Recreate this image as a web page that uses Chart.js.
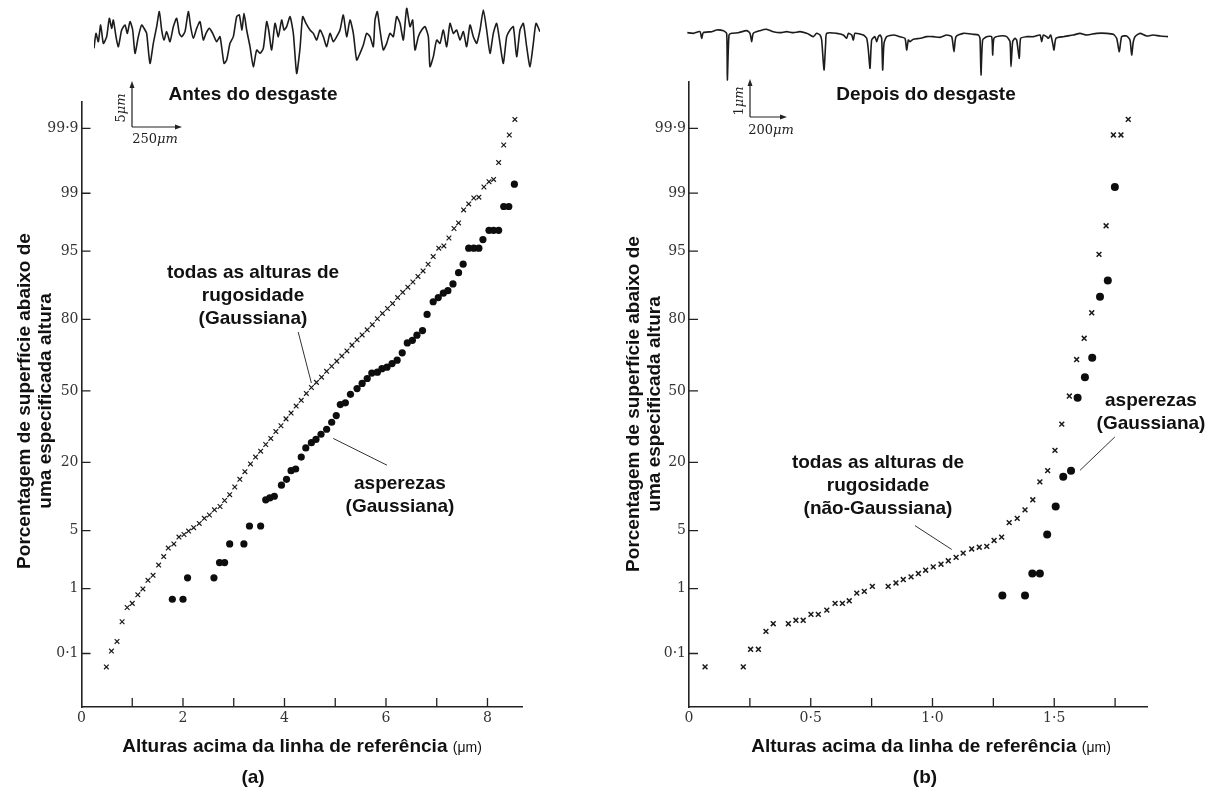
<!DOCTYPE html>
<html>
<head>
<meta charset="utf-8">
<script src="https://cdn.jsdelivr.net/npm/chart.js@4.4.1/dist/chart.umd.min.js"></script>
<style>
  html, body { margin: 0; padding: 0; background: #fff; }
  body { width: 1216px; height: 791px; position: relative; overflow: hidden; }
  canvas { position: absolute; }
  .t { position: absolute; transform: translate(-50%, -50%); white-space: nowrap;
       font: bold 19px "Liberation Sans", Arial, sans-serif; color: #111; line-height: 1; text-align: center; }
  .ml { line-height: 23px; }
  .unit { font-weight: normal; font-size: 14px; }
  .sb { position: absolute; transform: translate(-50%, -50%); white-space: nowrap;
        font: 13px "DejaVu Serif", "Liberation Serif", serif; color: #222; line-height: 1; }
  .sb i { font-style: italic; }
  .t.rot, .sb.rot { transform: translate(-50%, -50%) rotate(-90deg); }
</style>
</head>
<body>
<canvas id="traceA" width="446" height="80" style="left:94px;top:0"></canvas>
<canvas id="traceB" width="481" height="84" style="left:687px;top:0"></canvas>
<canvas id="plotA" width="600" height="791" style="left:0;top:0"></canvas>
<canvas id="plotB" width="616" height="791" style="left:600px;top:0"></canvas>

<svg width="1216" height="791" style="position:absolute;left:0;top:0;pointer-events:none">
  <g stroke="#222" stroke-width="1.2" fill="none">
    <path d="M132 127 V86 M132 127 H178"/>
    <path d="M750 117 V83 M750 117 H783"/>
  </g>
  <g fill="#222">
    <path d="M132 81 L129.5 88 L134.5 88 Z"/>
    <path d="M182 127 L175 124.5 L175 129.5 Z"/>
    <path d="M750 79 L747.5 86 L752.5 86 Z"/>
    <path d="M787 117 L780 114.5 L780 119.5 Z"/>
  </g>
</svg>
<div class="sb rot" style="left:120px;top:108px">5<i>μm</i></div>
<div class="sb" style="left:155px;top:138px">250<i>μm</i></div>
<div class="sb rot" style="left:738px;top:101px">1<i>μm</i></div>
<div class="sb" style="left:771px;top:129px">200<i>μm</i></div>

<div class="t" style="left:253px;top:93px">Antes do desgaste</div>
<div class="t" style="left:926px;top:93px">Depois do desgaste</div>

<div class="t rot" style="left:23px;top:401px">Porcentagem de superfície abaixo de</div>
<div class="t rot" style="left:44px;top:401px">uma especificada altura</div>
<div class="t rot" style="left:632px;top:404px">Porcentagem de superfície abaixo de</div>
<div class="t rot" style="left:653px;top:404px">uma especificada altura</div>

<div class="t ml" style="left:253px;top:294px">todas as alturas de<br>rugosidade<br>(Gaussiana)</div>
<div class="t ml" style="left:400px;top:494px">asperezas<br>(Gaussiana)</div>
<div class="t ml" style="left:878px;top:484px">todas as alturas de<br>rugosidade<br>(não-Gaussiana)</div>
<div class="t ml" style="left:1151px;top:411px">asperezas<br>(Gaussiana)</div>

<div class="t" style="left:302px;top:745px">Alturas acima da linha de referência <span class="unit">(μm)</span></div>
<div class="t" style="left:931px;top:745px">Alturas acima da linha de referência <span class="unit">(μm)</span></div>
<div class="t" style="left:253px;top:776px">(a)</div>
<div class="t" style="left:925px;top:776px">(b)</div>

<script>
// ---------- (a) before wear: heights (µm) and cumulative percentage ----------
const heightsA = [0.49,0.59,0.70,0.80,0.90,1.00,1.11,1.21,1.31,1.41,1.52,1.62,1.71,1.82,1.92,2.02,2.11,2.21,2.32,2.42,
  2.52,2.62,2.73,2.82,2.92,3.02,3.12,3.22,3.33,3.43,3.53,3.63,3.73,3.83,3.93,4.03,4.13,4.23,4.33,4.43,
  4.53,4.63,4.73,4.83,4.93,5.03,5.13,5.23,5.33,5.43,5.53,5.63,5.73,5.83,5.93,6.03,6.13,6.23,6.33,6.43,
  6.53,6.63,6.73,6.83,6.93,7.04,7.14,7.24,7.34,7.43,7.53,7.63,7.73,7.83,7.93,8.03,8.12,8.22,8.32,8.43,8.54];
const pctA = [0.058,0.11,0.16,0.33,0.54,0.62,0.82,0.99,1.29,1.50,2.02,2.56,3.22,3.59,4.27,4.55,4.95,5.37,5.94,6.68,
  7.21,8.08,8.69,9.85,11.1,12.9,14.9,17.1,19.5,21.8,23.9,26.4,28.8,31.6,34.1,37.1,39.7,42.9,45.6,48.8,
  51.6,54.0,56.4,59.1,61.4,63.7,65.9,68.1,70.5,72.6,74.5,76.4,78.2,80.2,81.9,83.4,84.8,86.4,87.7,88.9,
  90.0,91.1,92.1,93.2,94.3,95.35,95.6,96.4,97.2,97.6,98.34,98.61,98.84,98.87,99.18,99.31,99.36,99.64,99.81,99.87,99.93];
const asperityHeightsA = [1.79,2.00,2.09,2.61,2.72,2.82,2.92,3.20,3.31,3.53,3.63,3.71,3.80,3.94,4.04,4.13,4.22,4.33,4.42,4.53,
  4.62,4.72,4.83,4.93,5.02,5.10,5.20,5.30,5.43,5.53,5.63,5.72,5.83,5.92,6.02,6.12,6.22,6.32,6.42,6.52,
  6.61,6.72,6.81,6.93,7.03,7.13,7.22,7.32,7.43,7.52,7.63,7.73,7.83,7.91,8.03,8.12,8.22,8.32,8.42,8.53];
const asperityPctA = [0.71,0.71,1.39,1.39,2.17,2.17,3.59,3.59,5.59,5.59,10.0,10.4,10.75,13.35,14.9,17.4,17.9,21.8,25.1,27.1,
  28.4,30.5,32.6,35.6,38.6,43.6,44.4,48.4,51.1,53.5,55.8,58.3,58.7,60.3,61.0,62.6,64.1,67.3,71.4,72.4,
  74.4,76.1,81.6,85.3,86.4,87.5,88.1,89.6,91.8,93.2,95.35,95.35,95.35,96.25,97.06,97.06,97.06,98.5,98.5,99.25];

// ---------- (b) after wear ----------
const heightsB = [0.066,0.223,0.253,0.285,0.316,0.346,0.408,0.439,0.469,0.501,0.531,0.566,0.600,0.630,0.658,0.689,0.720,0.753,0.818,0.850,
  0.880,0.912,0.942,0.972,1.003,1.035,1.065,1.097,1.126,1.161,1.192,1.223,1.253,1.284,1.315,1.348,1.380,1.412,1.441,1.473,
  1.503,1.531,1.562,1.592,1.623,1.654,1.684,1.713,1.743,1.774,1.804];
const pctB = [0.058,0.058,0.118,0.118,0.233,0.307,0.307,0.347,0.347,0.427,0.427,0.494,0.621,0.621,0.676,0.866,0.914,1.07,1.07,1.19,
  1.32,1.43,1.58,1.74,1.92,2.07,2.28,2.50,2.81,3.14,3.29,3.36,3.92,4.27,6.06,6.68,8.08,10.0,14.2,17.4,
  24.2,34.8,47.6,64.4,73.2,82.1,94.6,97.4,99.87,99.87,99.93];
const asperityHeightsB = [1.287,1.380,1.410,1.441,1.471,1.506,1.537,1.569,1.596,1.626,1.656,1.688,1.720,1.749];
const asperityPctB = [0.80,0.80,1.58,1.58,4.55,8.69,15.6,17.4,46.8,56.4,65.2,86.6,90.3,99.18];

// probability axis ticks
const probTicks = [0.1, 1, 5, 20, 50, 80, 95, 99, 99.9];
const probTickLabels = ['0·1', '1', '5', '20', '50', '80', '95', '99', '99·9'];

// leader lines: [[height, pct], [height, pct]]
const leadersA = [[[4.27, 75.6], [4.53, 53.7]], [[6.02, 19.1], [4.96, 28.8]]];
const leadersB = [[[0.928, 5.64], [1.079, 3.10]], [[1.749, 29.4], [1.606, 17.5]]];

// ---------- surface profile traces (position, depth below top) ----------
const traceBeforeX = [42,48,55,62,70,80,88,95,100,108,115,125,135,142,150,158,165,175,185,195,
  200,210,220,230,238,245,252,260,270,280,290,298,305,315,325,332,340,350,360,370,
  378,388,398,410,420,432,440,450,460,470,478,486,492,500,510,520,530,540,550,560,
  566,575,585,595,605,612,620,630,640,650,660,668,678,690,700,710,720,730,740,750,
  760,770,780,790,800,810,820,830,840,850,860,870,880,885,892,900,910,920,930,940,
  950,960,970,980,990,998,1005,1015,1025,1035,1045,1050,1060,1070,1080,1090,1100,1110,1120,1130,
  1140,1150,1160,1170,1180,1190,1200,1210,1220,1230,1240,1250,1260,1270,1280,1290,1300,1310,1320,1330,
  1340,1350,1360,1368,1380];
const traceBeforeDepth = [145,100,125,75,130,110,55,85,60,110,140,90,75,100,65,90,160,110,75,90,
  100,190,130,80,35,90,120,95,125,80,55,100,110,95,35,80,115,85,65,120,
  100,85,100,125,110,190,180,130,110,50,45,90,40,90,140,200,150,160,145,65,
  90,150,70,110,60,90,80,50,100,220,145,50,70,90,100,120,90,110,140,100,
  125,110,90,45,110,60,100,180,160,135,100,110,140,60,35,90,150,130,100,110,
  50,70,120,25,80,60,150,110,90,80,110,200,170,120,130,90,140,70,100,90,
  120,95,140,75,110,130,90,30,90,160,100,70,130,190,110,90,80,170,90,70,
  140,200,130,70,95];
const traceAfterX = [22,40,60,65,70,95,110,130,140,142,147,155,175,200,210,215,220,240,260,280,
  300,320,340,360,380,390,400,410,420,425,432,437,440,470,490,500,505,515,520,525,
  550,560,565,570,575,585,590,595,600,605,608,612,620,640,660,675,680,685,690,700,
  720,740,760,780,800,815,822,828,850,880,895,900,903,908,920,935,938,942,960,980,
  990,993,998,1005,1010,1018,1022,1040,1060,1080,1085,1090,1100,1105,1112,1118,1122,1128,1150,1180,
  1200,1220,1250,1280,1300,1310,1318,1325,1340,1350,1355,1360,1365,1380,1400,1420,1440,1465];
const traceAfterDepth = [98,100,95,115,98,95,90,92,100,240,105,100,98,92,100,125,100,92,88,95,
  98,95,98,95,100,105,110,100,105,120,210,130,100,100,105,115,100,105,120,100,
  105,115,150,205,120,110,125,110,105,115,210,130,110,105,110,115,150,120,125,118,
  115,110,110,112,105,110,155,110,100,103,105,115,225,120,110,110,165,115,108,110,
  125,200,125,115,120,175,115,110,110,105,125,105,110,115,105,130,150,115,110,105,
  100,105,100,100,103,115,155,110,108,120,165,125,110,100,108,105,108,110];

// ---------- inverse normal CDF used by the probability scale ----------
function probit(p) {
  const a = [-3.969683028665376e+01, 2.209460984245205e+02, -2.759285104469687e+02, 1.383577518672690e+02, -3.066479806614716e+01, 2.506628277459239e+00];
  const b = [-5.447609879822406e+01, 1.615858368580409e+02, -1.556989798598866e+02, 6.680131188771972e+01, -1.328068155288572e+01];
  const c = [-7.784894002430293e-03, -3.223964580411365e-01, -2.400758277161838e+00, -2.549732539343734e+00, 4.374664141464968e+00, 2.938163982698783e+00];
  const d = [7.784695709041462e-03, 3.224671290700398e-01, 2.445134137142996e+00, 3.754408661907416e+00];
  const pl = 0.02425;
  let q, r;
  if (p < pl) {
    q = Math.sqrt(-2 * Math.log(p));
    return (((((c[0]*q+c[1])*q+c[2])*q+c[3])*q+c[4])*q+c[5]) / ((((d[0]*q+d[1])*q+d[2])*q+d[3])*q+1);
  }
  if (p <= 1 - pl) {
    q = p - 0.5; r = q * q;
    return (((((a[0]*r+a[1])*r+a[2])*r+a[3])*r+a[4])*r+a[5])*q / (((((b[0]*r+b[1])*r+b[2])*r+b[3])*r+b[4])*r+1);
  }
  q = Math.sqrt(-2 * Math.log(1 - p));
  return -(((((c[0]*q+c[1])*q+c[2])*q+c[3])*q+c[4])*q+c[5]) / ((((d[0]*q+d[1])*q+d[2])*q+d[3])*q+1);
}
function normCdf(z) {
  const t = 1 / (1 + 0.2316419 * Math.abs(z));
  const y = 0.3989423 * Math.exp(-z * z / 2) * t * (0.3193815 + t * (-0.3565638 + t * (1.781478 + t * (-1.821256 + t * 1.330274))));
  return z > 0 ? 1 - y : y;
}

// Normal-probability axis: values are percentages, laid out linearly in z
class ProbitScale extends Chart.LinearScale {
  determineDataLimits() {
    this.min = this.options.zMin;
    this.max = this.options.zMax;
  }
  buildTicks() {
    return this.options.probTicks.map(v => ({ value: v }));
  }
  getPixelForValue(value) {
    if (value === null || value === undefined || isNaN(value)) return NaN;
    return super.getPixelForValue(probit(value / 100));
  }
  getValueForPixel(pixel) {
    return 100 * normCdf(super.getValueForPixel(pixel));
  }
}
ProbitScale.id = 'probit';
ProbitScale.defaults = {};
Chart.register(ProbitScale);

// inward tick marks and annotation leaders
const plotDecor = {
  id: 'plotDecor',
  afterDraw(chart, args, opts) {
    const { ctx, chartArea: a, scales: { x, y } } = chart;
    ctx.save();
    ctx.strokeStyle = '#222';
    ctx.lineWidth = 1.3;
    ctx.beginPath();
    x.ticks.forEach(t => {
      const px = x.getPixelForValue(t.value);
      if (px > a.left + 2) { ctx.moveTo(px, a.bottom); ctx.lineTo(px, a.bottom - 9); }
    });
    y.ticks.forEach(t => {
      const py = y.getPixelForValue(t.value);
      ctx.moveTo(a.left, py); ctx.lineTo(a.left + 9, py);
    });
    ctx.stroke();
    ctx.lineWidth = 1;
    ctx.strokeStyle = '#333';
    ctx.beginPath();
    (opts.leaders || []).forEach(([p0, p1]) => {
      ctx.moveTo(x.getPixelForValue(p0[0]), y.getPixelForValue(p0[1]));
      ctx.lineTo(x.getPixelForValue(p1[0]), y.getPixelForValue(p1[1]));
    });
    ctx.stroke();
    ctx.restore();
  }
};

const serifTick = { family: '"DejaVu Serif", "Liberation Serif", serif', size: 14 };

function probPlot(id, cfg) {
  return new Chart(document.getElementById(id), {
    type: 'scatter',
    data: {
      datasets: [
        { data: cfg.allX.map((v, i) => ({ x: v, y: cfg.allP[i] })),
          pointStyle: 'crossRot', pointRadius: cfg.crossR, borderColor: '#1a1a1a', borderWidth: cfg.crossW,
          backgroundColor: '#1a1a1a', pointHoverRadius: cfg.crossR },
        { data: cfg.aspX.map((v, i) => ({ x: v, y: cfg.aspP[i] })),
          pointStyle: 'circle', pointRadius: cfg.dotR, borderWidth: 0, backgroundColor: '#0d0d0d', pointHoverRadius: cfg.dotR }
      ]
    },
    options: {
      responsive: false, animation: false, events: [],
      layout: { padding: cfg.padding },
      plugins: { legend: { display: false }, tooltip: { enabled: false }, plotDecor: { leaders: cfg.leaders } },
      scales: {
        x: {
          type: 'linear', min: 0, max: cfg.xMax,
          grid: { display: false, drawTicks: false },
          border: { display: true, color: '#222', width: 1.6 },
          ticks: { stepSize: cfg.step, includeBounds: false, autoSkip: false, maxRotation: 0, padding: 3,
                   color: '#333', font: serifTick, callback: cfg.xLabel },
          afterFit: s => { s.height = 30; }
        },
        y: {
          type: 'probit', zMin: -3.72, zMax: cfg.zMax, probTicks: probTicks,
          grid: { display: false, drawTicks: false },
          border: { display: true, color: '#222', width: 1.6 },
          ticks: { autoSkip: false, padding: 3, color: '#333', font: serifTick,
                   callback: (v, i) => probTickLabels[i] },
          afterFit: s => { s.width = 40; }
        }
      }
    },
    plugins: [plotDecor]
  });
}

probPlot('plotA', {
  allX: heightsA, allP: pctA, aspX: asperityHeightsA, aspP: asperityPctA,
  crossR: 3.3, crossW: 1.2, dotR: 3.6, xMax: 8.69, step: 1, zMax: 3.40,
  padding: { left: 41.5, right: 77.5, top: 102, bottom: 54 },
  leaders: leadersA,
  xLabel: v => (Math.round(v) % 2 === 0 ? String(Math.round(v)) : '')
});

probPlot('plotB', {
  allX: heightsB, allP: pctB, aspX: asperityHeightsB, aspP: asperityPctB,
  crossR: 3.4, crossW: 1.5, dotR: 4, xMax: 1.881, step: 0.25, zMax: 3.635,
  padding: { left: 49, right: 69, top: 82, bottom: 54 },
  leaders: leadersB,
  xLabel: v => {
    const k = Math.round(v * 4);
    if (k % 2 !== 0) return '';
    return k === 0 ? '0' : (k / 4).toFixed(1).replace('.', '·');
  }
});

function traceChart(id, xs, ys, xMin, xMax, yMax) {
  return new Chart(document.getElementById(id), {
    type: 'line',
    data: { datasets: [{ data: xs.map((v, i) => ({ x: v, y: ys[i] })), borderColor: '#1c1c1c', borderWidth: 1.6,
                         pointRadius: 0, tension: 0.2, clip: false, fill: false }] },
    options: {
      responsive: false, animation: false, events: [],
      layout: { padding: 0 },
      plugins: { legend: { display: false }, tooltip: { enabled: false } },
      scales: {
        x: { type: 'linear', display: false, min: xMin, max: xMax },
        y: { type: 'linear', display: false, min: 0, max: yMax, reverse: true }
      }
    }
  });
}
traceChart('traceA', traceBeforeX, traceBeforeDepth, 42, 1380, 240);
traceChart('traceB', traceAfterX, traceAfterDepth, 21, 1464, 252);
</script>
</body>
</html>
